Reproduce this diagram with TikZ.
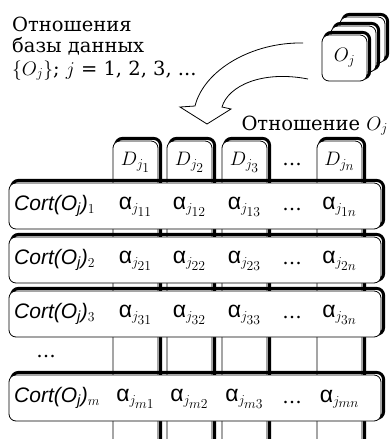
\RequirePackage{fix-cm}
\documentclass[tikz,border=0pt]{standalone}
\usepackage{amsmath}
\usepackage{fontspec}
\setmainfont{DejaVu Serif}
\newfontfamily\sansf{Liberation Sans}
\usetikzlibrary{positioning}
\tikzset{
  card/.style={draw, fill=white, rounded corners=7pt, line width=0.8pt},
  cardshadow/.style={draw, rounded corners=7pt, line width=3pt},
  lbl/.style={inner sep=0pt, font=\fontsize{19.5}{22}\selectfont},
}
% box with a thick shadow to the upper right
\newcommand{\slab}[4]{%
  \draw[cardshadow, xshift=2.6pt, yshift=2.6pt] (#1,#2) rectangle (#3,#4);
  \draw[card] (#1,#2) rectangle (#3,#4);}
\newcommand{\al}[1]{{\fontsize{23}{23}\selectfont\sansf α}$_{j_{\scriptstyle #1}}$}
\newcommand{\cort}[1]{{\fontsize{21}{23}\selectfont\sansf\itshape Cort(O$_{\text{j}}$)}$_{#1}$}

\begin{document}
\begin{tikzpicture}[x=1pt,y=-1pt]
\useasboundingbox (0,0) rectangle (389,439);
\clip (0,0) rectangle (389,439);
\def \rl {9}
\def \rr {381}
\def \rh {46}
% stack of relations
\foreach \k in {2,1,0}
  \slab{322+9*\k}{35-9*\k}{367+9*\k}{81-9*\k};
\node[lbl] (oj) at (344.5,58) {$O_j$};
\node[lbl, anchor=base west] (db1) at (12,31) {Отношения};
\node[lbl, anchor=base west] (db2) at (12,52.5) {базы данных};
\node[lbl, anchor=base west] (db3) at (12,75) {$\{O_j\}$; $j$ = 1, 2, 3, ...};
% hollow arrow
\draw[line width=0.8pt] (303,43) .. controls (252,42) and (204,70) .. (195,106)
  -- (180,107) -- (207,124) -- (231,109) -- (222,107)
  .. controls (228,86) and (262,70) .. (308,79);
\node[lbl, anchor=base east] (rel) at (388,130) {Отношение $O_j$};
% columns (domains)
\foreach \x/\i in {113/1,167/2,222/3,317/n} {
  \slab{\x}{141}{\x+45}{470}
  \node[lbl] (d\i) at (\x+22.5,162) {$D_{j_{\scriptstyle\i}}$};
}
\node[lbl] (dd) at (292,165) {\dots};
% tuples
\foreach \y/\r in {183/1,237/2,291/3,375/m} {
  \slab{\rl}{\y}{\rr}{\y+\rh}
  \node[lbl, anchor=west] (c\r) at (14,\y+23) {\cort{\r}};
  \node[lbl] (a\r1) at (135.5,\y+24) {\al{\r1}};
  \node[lbl] (a\r2) at (189.5,\y+24) {\al{\r2}};
  \node[lbl] (a\r3) at (244.5,\y+24) {\al{\r3}};
  \node[lbl] (ad\r) at (292,\y+27) {\dots};
  \node[lbl] (a\r n) at (339.5,\y+24) {\al{\r n}};
}
\node[lbl] (vd) at (46,357) {\dots};
\end{tikzpicture}
\end{document}
